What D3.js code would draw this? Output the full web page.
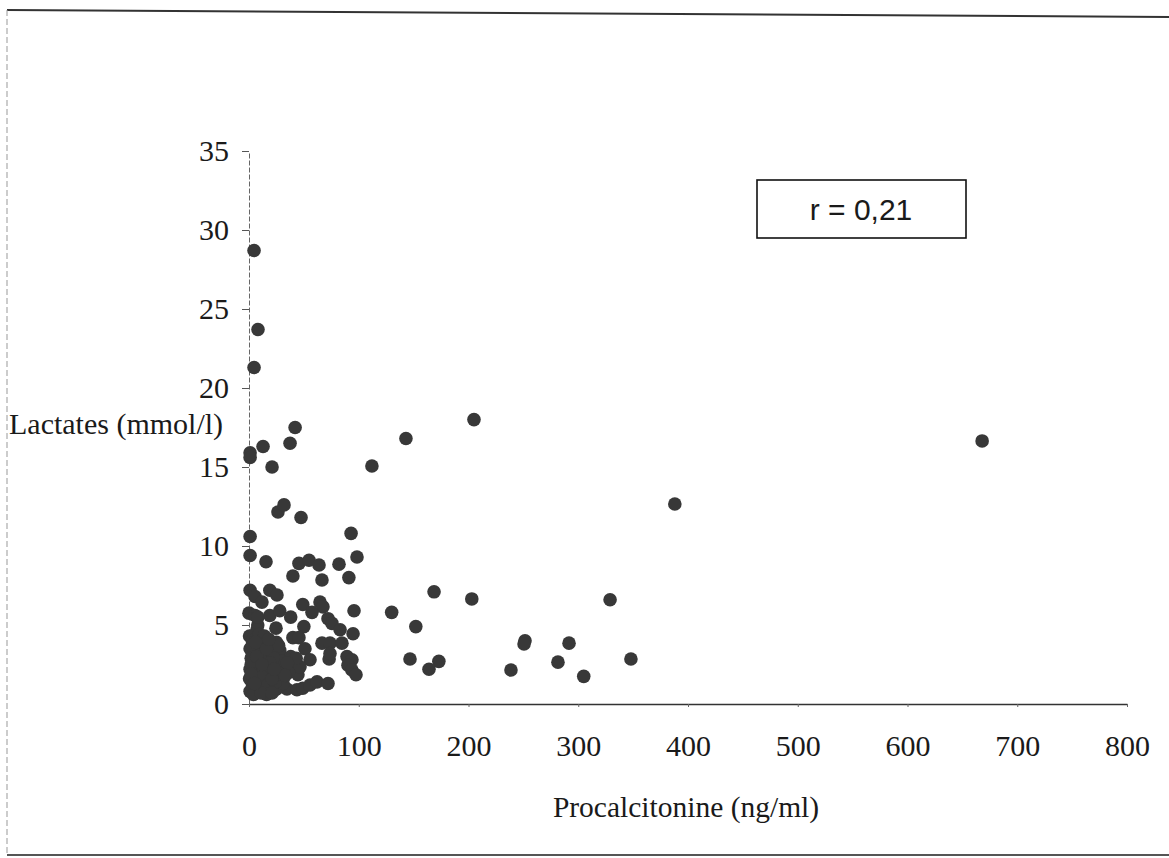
<!DOCTYPE html>
<html>
<head>
<meta charset="utf-8">
<script src="https://cdn.jsdelivr.net/npm/d3@7"></script>
<style>
  html, body { margin: 0; padding: 0; background: #fff; }
  svg { display: block; }
</style>
</head>
<body>
<div id="chart"></div>
<script>
// ---- Data ----
const xTicks = [0, 100, 200, 300, 400, 500, 600, 700, 800];
const yTicks = [0, 5, 10, 15, 20, 25, 30, 35];
const xLabel = "Procalcitonine (ng/ml)";
const yLabel = "Lactates (mmol/l)";
const corrLabel = "r = 0,21";

// Procalcitonine (ng/ml)
const pct = [
  // isolated high points
  4.6, 8.2, 4.6, 1, 1, 12.8, 21, 37.4, 42, 26.4, 31.9, 47.4, 1, 93, 112, 143, 205, 388, 668, 329, 348,
  // middle range
  168.6, 203, 130, 152, 251.5, 250.6, 291.6, 146.7, 173, 164, 238.7, 281.5, 305,
  // 0-100 range
  1, 15.5, 40, 45.5, 54.7, 63.8, 66.5, 82, 98.4, 91,
  1, 5.5, 11.8, 19, 25.5, 49, 64.7, 67.4, 57.4, 95.7,
  0, 5.5, 19, 28, 38, 8, 24.6, 50, 72, 75.6, 83, 94.8,
  40, 45.5, 51, 66.5, 73.8, 84.7, 73, 73.8, 89.3, 93.8, 90.2, 93.8, 97.5,
  55.6, 44.6, 34.6, 43.7, 49, 55.6, 62, 72, 31, 40, 8, 7.3, 46.5,
  // dense cluster near the origin
  0.5, 3, 7, 12, 17, 22, 1, 5, 9, 14, 19, 25, 2, 6, 11, 16, 21, 27,
  1, 4, 8, 13, 18, 23, 29, 0.5, 3, 7, 11, 15, 20, 26, 1, 5, 9, 14, 18, 24,
  30, 28, 33, 36, 31, 38, 43, 30,
  3, 10, 15, 22, 26, 20, 6, 12, 17, 24, 9, 14, 2, 7, 19, 28, 25, 4, 16, 21,
  35, 33, 27, 11, 21, 6, 16, 12, 23, 2, 5, 18
];
// Lactates (mmol/l)
const lact = [
  28.7, 23.7, 21.3, 15.9, 15.6, 16.3, 15.0, 16.5, 17.5, 12.15, 12.6, 11.8, 10.6, 10.8, 15.06, 16.8, 18.0, 12.66, 16.65, 6.6, 2.85,
  7.1, 6.65, 5.8, 4.9, 4.0, 3.8, 3.85, 2.85, 2.7, 2.2, 2.15, 2.65, 1.75,
  9.4, 9.0, 8.1, 8.9, 9.1, 8.8, 7.85, 8.85, 9.3, 8.0,
  7.2, 6.8, 6.45, 7.2, 6.9, 6.3, 6.45, 6.15, 5.8, 5.9,
  5.75, 5.6, 5.6, 5.9, 5.5, 5.0, 4.8, 4.9, 5.4, 5.1, 4.7, 4.45,
  4.2, 4.2, 3.5, 3.85, 3.85, 3.85, 2.85, 3.2, 3.0, 2.8, 2.45, 2.15, 1.85,
  2.8, 1.85, 0.95, 0.9, 1.0, 1.2, 1.4, 1.3, 2.6, 2.45, 5.5, 4.7, 2.35,
  4.3, 4.0, 4.2, 4.0, 3.8, 3.6, 3.5, 3.4, 3.6, 3.3, 3.2, 3.0, 2.9, 2.7, 2.9, 2.6, 2.5, 2.4,
  2.2, 2.0, 2.3, 2.1, 1.9, 1.8, 1.6, 1.6, 1.3, 1.5, 1.2, 1.4, 1.1, 1.0, 0.8, 0.7, 0.9, 0.7, 0.8, 0.9,
  2.9, 3.4, 2.2, 2.0, 1.3, 3.0, 2.9, 2.7,
  3.7, 3.1, 2.3, 2.9, 2.0, 3.9, 1.0, 1.7, 1.2, 1.4, 4.4, 4.3, 2.5, 3.0, 2.6, 1.9, 3.9, 0.6, 0.6, 1.6,
  2.6, 1.8, 3.7, 0.7, 0.7, 3.9, 3.5, 2.5, 2.2, 1.9, 1.3, 4.1
];

// ---- Drawing ----
const W = 1169, H = 858;
const svg = d3.select("#chart").append("svg")
  .attr("width", W).attr("height", H)
  .style("background", "#fff");

// page frame (scan border)
svg.append("line").attr("x1", 7).attr("y1", 10).attr("x2", W).attr("y2", 17)
  .attr("stroke", "#333").attr("stroke-width", 2);
svg.append("line").attr("x1", 7).attr("y1", 10).attr("x2", 7).attr("y2", 855)
  .attr("stroke", "#999").attr("stroke-width", 1).attr("stroke-dasharray", "6,3");
svg.append("line").attr("x1", 7).attr("y1", 855).attr("x2", W).attr("y2", 855)
  .attr("stroke", "#555").attr("stroke-width", 2);

const x = d3.scaleLinear().domain([0, 800]).range([249, 1127]);
const y = d3.scaleLinear().domain([0, 35]).range([704, 151]);

const serif = "'Liberation Serif', 'Times New Roman', serif";

// Y axis
const yAxis = svg.append("g").attr("transform", `translate(${x(0)},0)`)
  .call(d3.axisLeft(y).tickValues(yTicks).tickSize(7).tickSizeOuter(0).tickPadding(13));
yAxis.select(".domain").attr("stroke", "#666").attr("stroke-dasharray", "5,2");
yAxis.selectAll(".tick line").attr("stroke", "#555");
yAxis.selectAll(".tick text")
  .attr("font-family", serif).attr("font-size", 30).attr("fill", "#1a1a1a");

// X axis
const xAxis = svg.append("g").attr("transform", `translate(0,${y(0)})`)
  .call(d3.axisBottom(x).tickValues(xTicks).tickSize(3).tickSizeOuter(0).tickPadding(28));
xAxis.select(".domain").attr("stroke", "#333").attr("stroke-width", 1.3);
xAxis.selectAll(".tick line").attr("stroke", "#666");
xAxis.selectAll(".tick text")
  .attr("font-family", serif).attr("font-size", 30).attr("fill", "#1a1a1a");

// Axis titles
svg.append("text").attr("x", 9).attr("y", 434)
  .attr("font-family", serif).attr("font-size", 30).attr("fill", "#1a1a1a")
  .text(yLabel);
svg.append("text").attr("x", 686).attr("y", 817).attr("text-anchor", "middle")
  .attr("font-family", serif).attr("font-size", 29.5).attr("fill", "#1a1a1a")
  .text(xLabel);

// Points
const pts = pct.map((v, i) => ({ x: v, y: lact[i] }));
svg.append("g").selectAll("circle").data(pts).join("circle")
  .attr("cx", d => x(d.x)).attr("cy", d => y(d.y)).attr("r", 6.8)
  .attr("fill", "#383838");

// correlation box
svg.append("rect").attr("x", 757).attr("y", 180).attr("width", 209).attr("height", 58)
  .attr("fill", "#fff").attr("stroke", "#111").attr("stroke-width", 1.6);
svg.append("text").attr("x", 861).attr("y", 220).attr("text-anchor", "middle")
  .attr("font-family", "'Liberation Sans', Arial, sans-serif").attr("font-size", 30)
  .attr("fill", "#1a1a1a").text(corrLabel);
</script>
</body>
</html>
